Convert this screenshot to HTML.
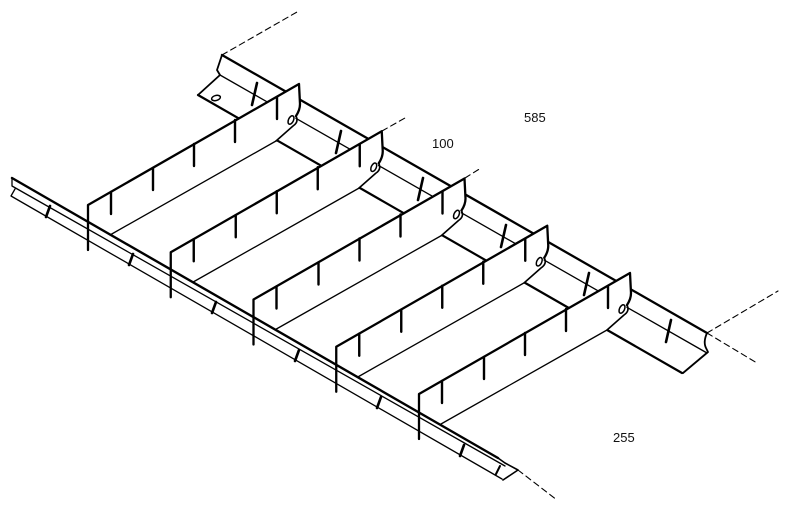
<!DOCTYPE html>
<html><head><meta charset="utf-8"><style>
html,body{margin:0;padding:0;background:#fff}
svg{display:block}
text{font-family:"Liberation Sans",sans-serif;font-size:13px;fill:#111;stroke:none}
</style></head><body>
<svg width="800" height="531" viewBox="0 0 800 531" xmlns="http://www.w3.org/2000/svg" fill="none" stroke="#000" stroke-linecap="round" stroke-linejoin="round">
<!-- back rail -->
<g>
<path d="M222,55 L707,333" stroke-width="2.3"/>
<path d="M220,75 L707,353" stroke-width="1.3"/>
<path d="M198,95 L682,373" stroke-width="2.2"/>
<path d="M222,55 L217,70 L220,75 L198,95" stroke-width="1.8"/>
<ellipse cx="216" cy="98" rx="4.5" ry="2.5" transform="rotate(-15 216 98)" stroke-width="1.5"/>
<path d="M707,333 Q703,342 706,348 L708,352 L683,373" stroke-width="1.8"/>
<g stroke-width="2.6">
<path d="M257,83 L252,105"/><path d="M341,131 L336,153"/><path d="M423,178 L418,200"/>
<path d="M506,225 L501,247"/><path d="M589,273 L584,295"/><path d="M671,320 L666,342"/>
</g>
<g stroke-width="1.1" stroke-dasharray="6,4">
<path d="M222,55 L297,12"/>
<path d="M707,333 L778,291"/>
<path d="M707,333 L757,363"/>
<path d="M382,131 L405,118"/>
<path d="M465,178 L481,168"/>
<path d="M518,470 L557,500"/>
</g>
</g>
<!-- blades -->
<g>
<path d="M88,250 L88,205 L299,84 L300,104 Q300,110 296,116 L293,126 L276,141 L110,235 Z" fill="#fff" stroke="none"/>
<path d="M88,250 L88,205 L299,84 L300,104 Q300,110 296,116" stroke-width="2.3"/>
<path d="M296,116 Q299,122 293,126 L276,141" stroke-width="1.6"/>
<path d="M276,141 L110,235" stroke-width="1.3"/>
<ellipse cx="291" cy="120" rx="2.5" ry="4.5" transform="rotate(25 291 120)" stroke-width="1.5"/>
<g stroke-width="2.4">
<path d="M111,192 L111,214"/><path d="M153,168 L153,190"/><path d="M194,144 L194,166"/>
<path d="M235,120 L235,142"/><path d="M277,97 L277,119"/>
</g>
</g>
<g transform="translate(82.75,47.25)">
<path d="M88,250 L88,205 L299,84 L300,104 Q300,110 296,116 L293,126 L276,141 L110,235 Z" fill="#fff" stroke="none"/>
<path d="M88,250 L88,205 L299,84 L300,104 Q300,110 296,116" stroke-width="2.3"/>
<path d="M296,116 Q299,122 293,126 L276,141" stroke-width="1.6"/>
<path d="M276,141 L110,235" stroke-width="1.3"/>
<ellipse cx="291" cy="120" rx="2.5" ry="4.5" transform="rotate(25 291 120)" stroke-width="1.5"/>
<g stroke-width="2.4">
<path d="M111,192 L111,214"/><path d="M153,168 L153,190"/><path d="M194,144 L194,166"/>
<path d="M235,120 L235,142"/><path d="M277,97 L277,119"/>
</g>
</g>
<g transform="translate(165.5,94.5)">
<path d="M88,250 L88,205 L299,84 L300,104 Q300,110 296,116 L293,126 L276,141 L110,235 Z" fill="#fff" stroke="none"/>
<path d="M88,250 L88,205 L299,84 L300,104 Q300,110 296,116" stroke-width="2.3"/>
<path d="M296,116 Q299,122 293,126 L276,141" stroke-width="1.6"/>
<path d="M276,141 L110,235" stroke-width="1.3"/>
<ellipse cx="291" cy="120" rx="2.5" ry="4.5" transform="rotate(25 291 120)" stroke-width="1.5"/>
<g stroke-width="2.4">
<path d="M111,192 L111,214"/><path d="M153,168 L153,190"/><path d="M194,144 L194,166"/>
<path d="M235,120 L235,142"/><path d="M277,97 L277,119"/>
</g>
</g>
<g transform="translate(248.25,141.75)">
<path d="M88,250 L88,205 L299,84 L300,104 Q300,110 296,116 L293,126 L276,141 L110,235 Z" fill="#fff" stroke="none"/>
<path d="M88,250 L88,205 L299,84 L300,104 Q300,110 296,116" stroke-width="2.3"/>
<path d="M296,116 Q299,122 293,126 L276,141" stroke-width="1.6"/>
<path d="M276,141 L110,235" stroke-width="1.3"/>
<ellipse cx="291" cy="120" rx="2.5" ry="4.5" transform="rotate(25 291 120)" stroke-width="1.5"/>
<g stroke-width="2.4">
<path d="M111,192 L111,214"/><path d="M153,168 L153,190"/><path d="M194,144 L194,166"/>
<path d="M235,120 L235,142"/><path d="M277,97 L277,119"/>
</g>
</g>
<g transform="translate(331,189)">
<path d="M88,250 L88,205 L299,84 L300,104 Q300,110 296,116 L293,126 L276,141 L110,235 Z" fill="#fff" stroke="none"/>
<path d="M88,250 L88,205 L299,84 L300,104 Q300,110 296,116" stroke-width="2.3"/>
<path d="M296,116 Q299,122 293,126 L276,141" stroke-width="1.6"/>
<path d="M276,141 L110,235" stroke-width="1.3"/>
<ellipse cx="291" cy="120" rx="2.5" ry="4.5" transform="rotate(25 291 120)" stroke-width="1.5"/>
<g stroke-width="2.4">
<path d="M111,192 L111,214"/><path d="M153,168 L153,190"/><path d="M194,144 L194,166"/>
<path d="M235,120 L235,142"/><path d="M277,97 L277,119"/>
</g>
</g>
<!-- front rail -->
<g>
<path d="M12,178 L498,458" stroke-width="2.4"/>
<path d="M12,178 L12,186 L505,466" stroke-width="1.3"/>
<path d="M15,189 L11,196 L502,479" stroke-width="1.3"/>
<path d="M498,458 L505,463 L518,470 L503,480" stroke-width="1.6"/>
<path d="M500,466 L496,474" stroke-width="2"/>
<g stroke-width="2.6">
<path d="M50,206 L46,217"/><path d="M133,254 L129,265"/><path d="M216,302 L212,313"/>
<path d="M299,350 L295,361"/><path d="M381,397 L377,408"/><path d="M464,445 L460,456"/>
</g>
</g>
<text x="524" y="122">585</text>
<text x="432" y="148">100</text>
<text x="613" y="442">255</text>
</svg>
</body></html>
